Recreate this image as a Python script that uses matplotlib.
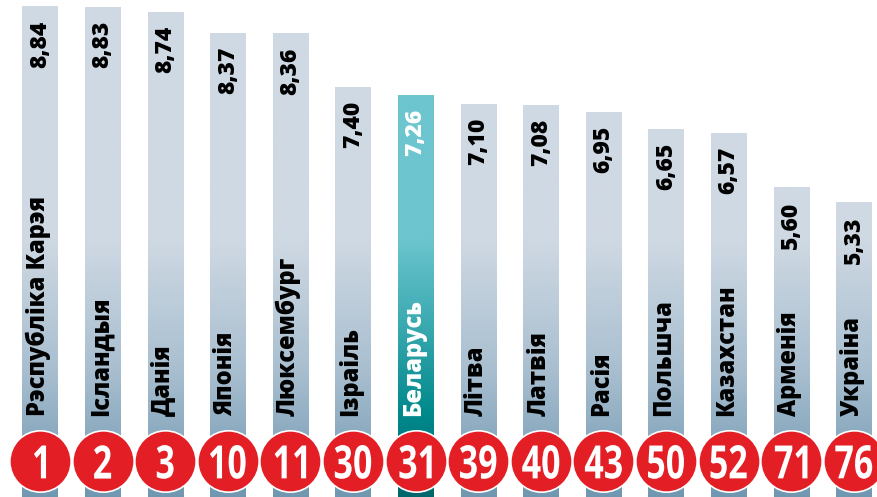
import numpy as np
import matplotlib
matplotlib.use("Agg")
import matplotlib.pyplot as plt
from matplotlib.colors import LinearSegmentedColormap
from matplotlib.font_manager import FontProperties
from matplotlib.patches import PathPatch
from matplotlib.textpath import TextPath
from matplotlib.transforms import Affine2D

countries = ["Рэспубліка Карэя", "Ісландыя", "Данія", "Японія", "Люксембург",
             "Ізраіль", "Беларусь", "Літва", "Латвія", "Расія", "Польшча",
             "Казахстан", "Арменія", "Украіна"]
scores = [8.84, 8.83, 8.74, 8.37, 8.36, 7.40, 7.26, 7.10, 7.08, 6.95, 6.65,
          6.57, 5.60, 5.33]
ranks = [1, 2, 3, 10, 11, 30, 31, 39, 40, 43, 50, 52, 71, 76]
highlight = "Беларусь"

DPI = 100
fig = plt.figure(figsize=(8.78, 4.97), dpi=DPI)
ax = fig.add_axes([0, 0, 1, 1])
ax.set_xlim(-0.639, 13.387)
ax.set_ylim(0.064, 8.965)
ax.axis("off")

grey_cmap = LinearSegmentedColormap.from_list("g", ["#6f96b0", "#a9bfd0", "#cfd9e3"])
teal_cmap = LinearSegmentedColormap.from_list("t", ["#00666b", "#00898c", "#3aa9b0", "#6cc5cf"])

grad_top = 4.7  # gradient fades out above this value
width = 0.56

for i, (name, val) in enumerate(zip(countries, scores)):
    is_hl = name == highlight
    cmap = teal_cmap if is_hl else grey_cmap
    x0 = i - width / 2
    # one image per bar: gradient at the bottom, flat colour above grad_top
    yy = np.linspace(0, val, 400)
    shade = np.clip(yy / grad_top, 0, 1).reshape(-1, 1)
    ax.imshow(shade, cmap=cmap, vmin=0, vmax=1, origin="lower", aspect="auto",
              extent=(x0, x0 + width, 0, val), interpolation="bilinear", zorder=2)

    col = "white" if is_hl else "black"
    ax.text(i, val - 0.24, f"{val:.2f}".replace(".", ","), rotation=90,
            ha="center", va="top", fontsize=16.5, fontweight="heavy", color=col,
            fontfamily="Open Sans", zorder=4)
    ax.text(i - 0.03, 1.52, name, rotation=90, ha="center", va="bottom",
            fontsize=17, fontweight="heavy", color=col, fontfamily="Open Sans",
            zorder=4)

circle_y = 0.71
ax.scatter(range(len(ranks)), [circle_y] * len(ranks), s=1950, color="#e31e24",
           edgecolor="white", linewidth=1.2, zorder=5)

# rank numbers: condensed bold digits drawn as squeezed text paths
num_font = FontProperties(family="Open Sans", weight="bold")
for i, rank in enumerate(ranks):
    tp = TextPath((0, 0), str(rank), size=46, prop=num_font)
    bb = tp.get_extents()
    cx, cy = ax.transData.transform((i, circle_y))
    tr = (Affine2D()
          .translate(-(bb.x0 + bb.x1) / 2, -(bb.y0 + bb.y1) / 2)
          .scale(0.74, 1.0)
          .translate(cx, cy - 1))
    ax.add_patch(PathPatch(tp, transform=tr, facecolor="white",
                           edgecolor="none", zorder=6))

fig.savefig("out.png", dpi=DPI, facecolor="white")
